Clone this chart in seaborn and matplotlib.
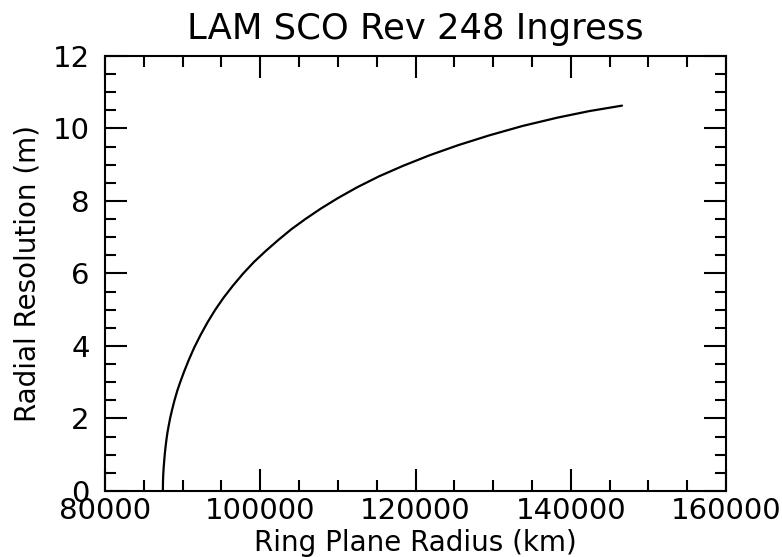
import matplotlib
matplotlib.use("Agg")
import matplotlib.pyplot as plt
from matplotlib.ticker import MultipleLocator
import seaborn as sns
import pandas as pd

# Ring plane radius (km) and radial resolution (m) along the ingress track
radius_km = [
    87450, 87470, 87500, 87550, 87620, 87700, 87800, 87920, 88050, 88200,
    88400, 88650, 88950, 89300, 89700, 90200, 90800, 91500, 92300, 93200,
    94200, 95300, 96500, 97800, 99200, 100700, 102300, 104000, 105800,
    107800, 110000, 112500, 115300, 118400, 121800, 125500, 129500, 133800,
    138300, 142400, 146600,
]
resolution_m = [
    0.00, 0.28, 0.45, 0.63, 0.82, 1.02, 1.22, 1.43, 1.62, 1.80,
    2.02, 2.25, 2.50, 2.76, 3.01, 3.30, 3.62, 3.96, 4.30, 4.65,
    5.00, 5.34, 5.67, 6.00, 6.32, 6.62, 6.92, 7.22, 7.50,
    7.79, 8.08, 8.38, 8.68, 8.97, 9.26, 9.54, 9.81, 10.07,
    10.30, 10.48, 10.63,
]

x_ticks = [80000, 100000, 120000, 140000, 160000]
y_ticks = [0, 2, 4, 6, 8, 10, 12]

title = "LAM SCO Rev 248 Ingress"
x_label = "Ring Plane Radius (km)"
y_label = "Radial Resolution (m)"

df = pd.DataFrame({"radius": radius_km, "resolution": resolution_m})

sns.set_theme(style="white")
plt.rcParams["font.family"] = ["DejaVu Sans"]

fig = plt.figure(figsize=(7.82, 5.57), dpi=100)
ax = fig.add_axes([0.1343, 0.1185, 0.9284 - 0.1343, 0.8995 - 0.1185])

sns.lineplot(data=df, x="radius", y="resolution", color="black",
             linewidth=1.6, ax=ax, sort=False)

ax.set_xlim(x_ticks[0], x_ticks[-1])
ax.set_ylim(y_ticks[0], y_ticks[-1])
ax.set_xticks(x_ticks)
ax.set_yticks(y_ticks)
ax.set_xticklabels([str(v) for v in x_ticks])
ax.set_yticklabels([str(v) for v in y_ticks])
ax.xaxis.set_minor_locator(MultipleLocator(5000))
ax.yaxis.set_minor_locator(MultipleLocator(0.5))

for side in ["left", "right", "top", "bottom"]:
    ax.spines[side].set_visible(True)
    ax.spines[side].set_color("black")
    ax.spines[side].set_linewidth(1.5)

ax.tick_params(which="both", direction="in", top=True, right=True,
               bottom=True, left=True, color="black", width=1.5)
ax.tick_params(which="major", length=16, labelsize=21, labelcolor="black")
ax.tick_params(which="minor", length=8)
ax.tick_params(axis="x", which="major", pad=4)
ax.tick_params(axis="y", which="major", pad=11)

ax.set_title(title, fontsize=25.5, color="black", pad=12)
ax.set_xlabel(x_label, fontsize=20, color="black", labelpad=3)
ax.set_ylabel(y_label, fontsize=20, color="black", labelpad=8)
ax.grid(False)

fig.savefig("out.png", dpi=100, facecolor="white")
